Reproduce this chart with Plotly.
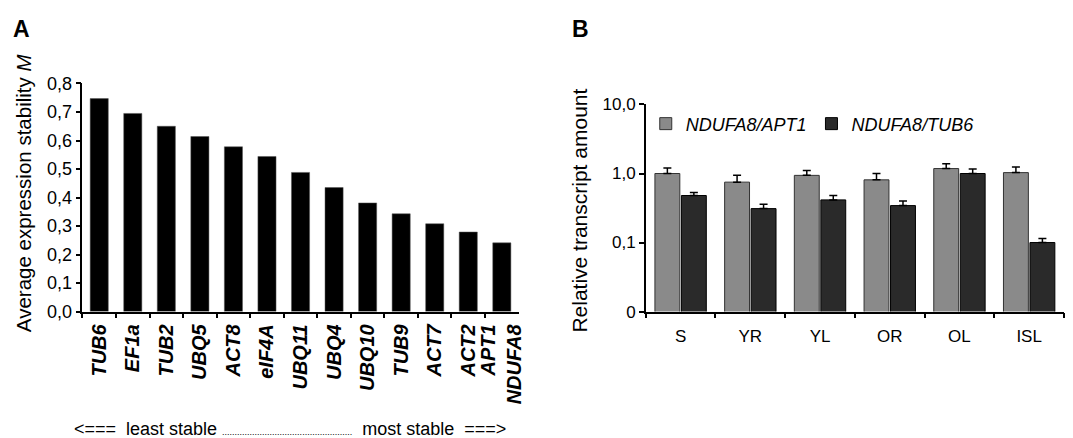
import plotly.graph_objects as go

# ---- Panel A data ----
genes = ["TUB6", "EF1a", "TUB2", "UBQ5", "ACT8", "eIF4A", "UBQ11", "UBQ4",
         "UBQ10", "TUB9", "ACT7", "ACT2", "APT1/NDUFA8"]
gene_ticktext = ["TUB6", "EF1a", "TUB2", "UBQ5", "ACT8", "eIF4A", "UBQ11", "UBQ4",
                 "UBQ10", "TUB9", "ACT7", "ACT2", "APT1<br>NDUFA8"]
stability_M = [0.747, 0.695, 0.650, 0.614, 0.578, 0.544, 0.488, 0.435,
               0.381, 0.343, 0.308, 0.279, 0.241]
a_ytickvals = [0, 0.1, 0.2, 0.3, 0.4, 0.5, 0.6, 0.7, 0.8]
a_yticktext = ["0,0", "0,1", "0,2", "0,3", "0,4", "0,5", "0,6", "0,7", "0,8"]

# ---- Panel B data ----
tissues = ["S", "YR", "YL", "OR", "OL", "ISL"]
ndufa8_apt1 = [1.00, 0.75, 0.94, 0.81, 1.18, 1.03]
ndufa8_apt1_top = [1.20, 0.94, 1.11, 1.00, 1.39, 1.24]
ndufa8_tub6 = [0.48, 0.31, 0.415, 0.343, 1.00, 0.100]
ndufa8_tub6_top = [0.53, 0.36, 0.48, 0.40, 1.16, 0.114]
b_ytickvals = [0.01, 0.1, 1, 10]
b_yticktext = ["0", "0,1", "1,0", "10,0"]

W, H = 1073, 438
FONT = "Liberation Sans, Arial, sans-serif"

def px_x(p):
    return p / W

def px_y(p):
    return 1 - p / H

fig = go.Figure()

fig.add_trace(go.Bar(
    x=genes, y=stability_M, width=0.54,
    marker=dict(color="black", line=dict(color="#555", width=0.5)),
    xaxis="x", yaxis="y", showlegend=False,
))

fig.add_trace(go.Bar(
    x=tissues, y=ndufa8_apt1, name="<i>NDUFA8/APT1</i>",
    marker=dict(color="#8a8a8a", line=dict(color="#333333", width=1)),
    error_y=dict(type="data", symmetric=False,
                 array=[t - v for t, v in zip(ndufa8_apt1_top, ndufa8_apt1)],
                 arrayminus=[0] * len(tissues), color="black", thickness=1.5, width=4),
    xaxis="x2", yaxis="y2",
))
fig.add_trace(go.Bar(
    x=tissues, y=ndufa8_tub6, name="<i>NDUFA8/TUB6</i>",
    marker=dict(color="#2a2a2a", line=dict(color="black", width=1)),
    error_y=dict(type="data", symmetric=False,
                 array=[t - v for t, v in zip(ndufa8_tub6_top, ndufa8_tub6)],
                 arrayminus=[0] * len(tissues), color="black", thickness=1.5, width=4),
    xaxis="x2", yaxis="y2",
))

axis_common = dict(showline=True, linecolor="black", linewidth=1.5,
                   ticks="outside", tickcolor="black", ticklen=5, tickwidth=1.5,
                   showgrid=False, zeroline=False)

fig.update_layout(
    width=W, height=H,
    margin=dict(l=0, r=0, t=0, b=0),
    paper_bgcolor="white", plot_bgcolor="white",
    font=dict(family=FONT, color="black", size=16),
    barmode="group", bargap=0.24, bargroupgap=0.06,
    xaxis=dict(domain=[px_x(83), px_x(522)], anchor="y",
               range=[-0.5, 12.5], tickson="boundaries",
               tickvals=genes,
               ticktext=["<b><i>" + t.replace("<br>", "</i></b><br><b><i>") + "</i></b>" for t in gene_ticktext],
               tickangle=-90, tickfont=dict(size=20), ticklabelstandoff=3, **axis_common),
    yaxis=dict(domain=[px_y(316), px_y(77)], anchor="x",
               range=[0, 0.8], tickvals=a_ytickvals, ticktext=a_yticktext,
               tickfont=dict(size=18), **axis_common),
    xaxis2=dict(domain=[px_x(650), px_x(1071)], anchor="y2",
                range=[-0.5, 5.5], tickson="boundaries",
                tickfont=dict(size=17), ticklabelstandoff=8, **axis_common),
    yaxis2=dict(domain=[px_y(316), px_y(99)], anchor="x2", type="log",
                range=[-2, 1], tickvals=b_ytickvals, ticktext=b_yticktext,
                tickfont=dict(size=17), **axis_common),
    legend=dict(orientation="h", x=px_x(650), y=px_y(100), xanchor="left", yanchor="top",
                font=dict(size=18), bgcolor="rgba(0,0,0,0)", itemwidth=30,
                traceorder="normal"),
    annotations=[
        dict(text="<b>A</b>", x=px_x(11), y=px_y(20), xref="paper", yref="paper",
             xanchor="left", yanchor="middle", showarrow=False, font=dict(size=23)),
        dict(text="<b>B</b>", x=px_x(574), y=px_y(20), xref="paper", yref="paper",
             xanchor="left", yanchor="middle", showarrow=False, font=dict(size=23)),
        dict(text="Average expression stability <i>M</i>", textangle=-90,
             x=px_x(23), y=px_y(191), xref="paper", yref="paper",
             xanchor="center", yanchor="middle", showarrow=False, font=dict(size=20.5)),
        dict(text="Relative transcript amount", textangle=-90,
             x=px_x(583), y=px_y(210), xref="paper", yref="paper",
             xanchor="center", yanchor="middle", showarrow=False, font=dict(size=21)),
        dict(text="&lt;===  least stable <span style=\"font-size:9px\">" + "." * 52 +
                  "</span>  most stable  ===&gt;",
             x=px_x(292), y=px_y(439), xref="paper", yref="paper",
             xanchor="center", yanchor="middle", showarrow=False, font=dict(size=18)),
    ],
)

fig.write_html("out.html")
